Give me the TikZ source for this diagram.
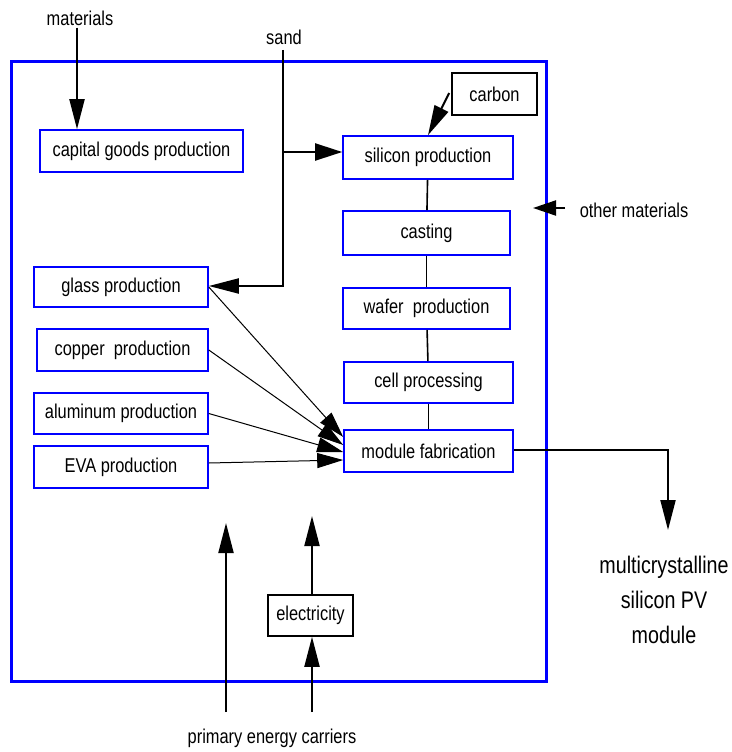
\documentclass[tikz,border=0pt]{standalone}
\usepackage{fontspec}
\setmainfont{Liberation Sans}[FakeStretch=0.82]
\usetikzlibrary{arrows.meta}
\definecolor{frameblue}{RGB}{0,0,255}
\tikzset{
  proc/.style={draw=frameblue, line width=1.6pt, inner sep=0pt, align=center,
    font=\fontsize{20}{23}\selectfont},
  src/.style={draw=black, line width=1.6pt, inner sep=0pt, align=center,
    font=\fontsize{20}{23}\selectfont},
  lbl/.style={inner sep=2pt, font=\fontsize{20}{23}\selectfont},
  arr/.style={draw=black, line width=2pt, -{Triangle[length=30pt,width=15pt]}},
  thinarr/.style={draw=black, line width=1pt, -{Triangle[length=26pt,width=15pt]}},
  link/.style={draw=black, line width=1.6pt},
}
\begin{document}
\begin{tikzpicture}[x=1pt,y=-1pt]
\useasboundingbox (0,0) rectangle (731,752);

% system boundary
\draw[frameblue, line width=3pt] (11,62) rectangle (546,681);

% process boxes
\node[proc, minimum width=203pt, minimum height=42pt] (cap)  at (141.5,151) {capital goods production};
\node[proc, minimum width=170pt, minimum height=43pt] (sil)  at (428,157.5) {silicon production};
\node[proc, minimum width=167pt, minimum height=44pt] (cast) at (426.5,233) {casting};
\node[proc, minimum width=167pt, minimum height=41pt] (waf)  at (426.5,308.5) {wafer\ \ production};
\node[proc, minimum width=169pt, minimum height=41pt] (cell) at (428.5,382.5) {cell processing};
\node[proc, minimum width=169pt, minimum height=42pt] (mod)  at (428.5,451) {module fabrication};
\node[proc, minimum width=174pt, minimum height=40pt] (glass) at (121,287) {glass production};
\node[proc, minimum width=171pt, minimum height=42pt] (cop)  at (122.5,350) {copper\ \ production};
\node[proc, minimum width=174pt, minimum height=41pt] (alu)  at (121,413.5) {aluminum production};
\node[proc, minimum width=174pt, minimum height=42pt] (eva)  at (121,467) {EVA production};

% external sources
\node[src, minimum width=85pt, minimum height=42pt] (carb) at (494.5,94) {carbon};
\node[src, minimum width=85pt, minimum height=41pt] (elec) at (310.5,615.5) {electricity};

% labels
\node[lbl] (mat)  at (80,18) {materials};
\node[lbl] (sand) at (284,37) {sand};
\node[lbl] (oth)  at (634,210) {other materials};
\node[lbl] (pec)  at (272,738) {primary energy carriers};
\node[align=center, inner sep=0pt, font=\fontsize{24}{35}\selectfont] (out) at (664,600)
  {multicrystalline\\silicon PV\\module};

% helper coordinates
\coordinate (matx)    at (77,0);
\coordinate (sandtop) at (283,50);
\coordinate (silin)   at ([yshift=5.5pt]sil.west);
\coordinate (othtail) at (565,208);
\coordinate (othtip)  at (533,208);
\coordinate (outtip)  at (668,530);
\coordinate (pe1)     at (226,712);
\coordinate (pe1tip)  at (226,523);
\coordinate (pe2)     at (312,712);
\coordinate (pe2tip)  at (312,516);

% material inputs
\draw[arr] (mat.south -| matx) -- (cap.north -| matx);
\draw[arr] (sandtop) |- ([yshift=1pt]glass.east);
\draw[arr, -{Triangle[length=27pt,width=17pt]}] (sandtop |- silin) -- (silin);
\draw[arr] ([shift={(-2pt,1pt)}]carb.west) -- (sil.north);
\draw[arr, -{Triangle[length=23pt,width=15pt]}] (othtail) -- (othtip);

% silicon chain
\draw[link] (sil) -- (cast);
\draw[link] (cast) -- (waf);
\draw[link] (waf) -- (cell);
\draw[link] (cell) -- (mod);

% component inputs to module fabrication
\draw[thinarr] (glass.east) -- ([yshift=14pt]mod.west);
\draw[thinarr] (cop.east) -- ([yshift=6pt]mod.west);
\draw[thinarr] (alu.east) -- ([yshift=-1pt]mod.west);
\draw[thinarr] ([yshift=4pt]eva.east) -- ([yshift=-9pt]mod.west);

% product output
\draw[arr] ([yshift=1pt]mod.east) -| (outtip);

% energy inputs
\draw[arr] (pe1) -- (pe1tip);
\draw[arr] (pe2) -- (pe2 |- elec.south);
\draw[arr] (pe2 |- elec.north) -- (pe2tip);
\end{tikzpicture}
\end{document}
